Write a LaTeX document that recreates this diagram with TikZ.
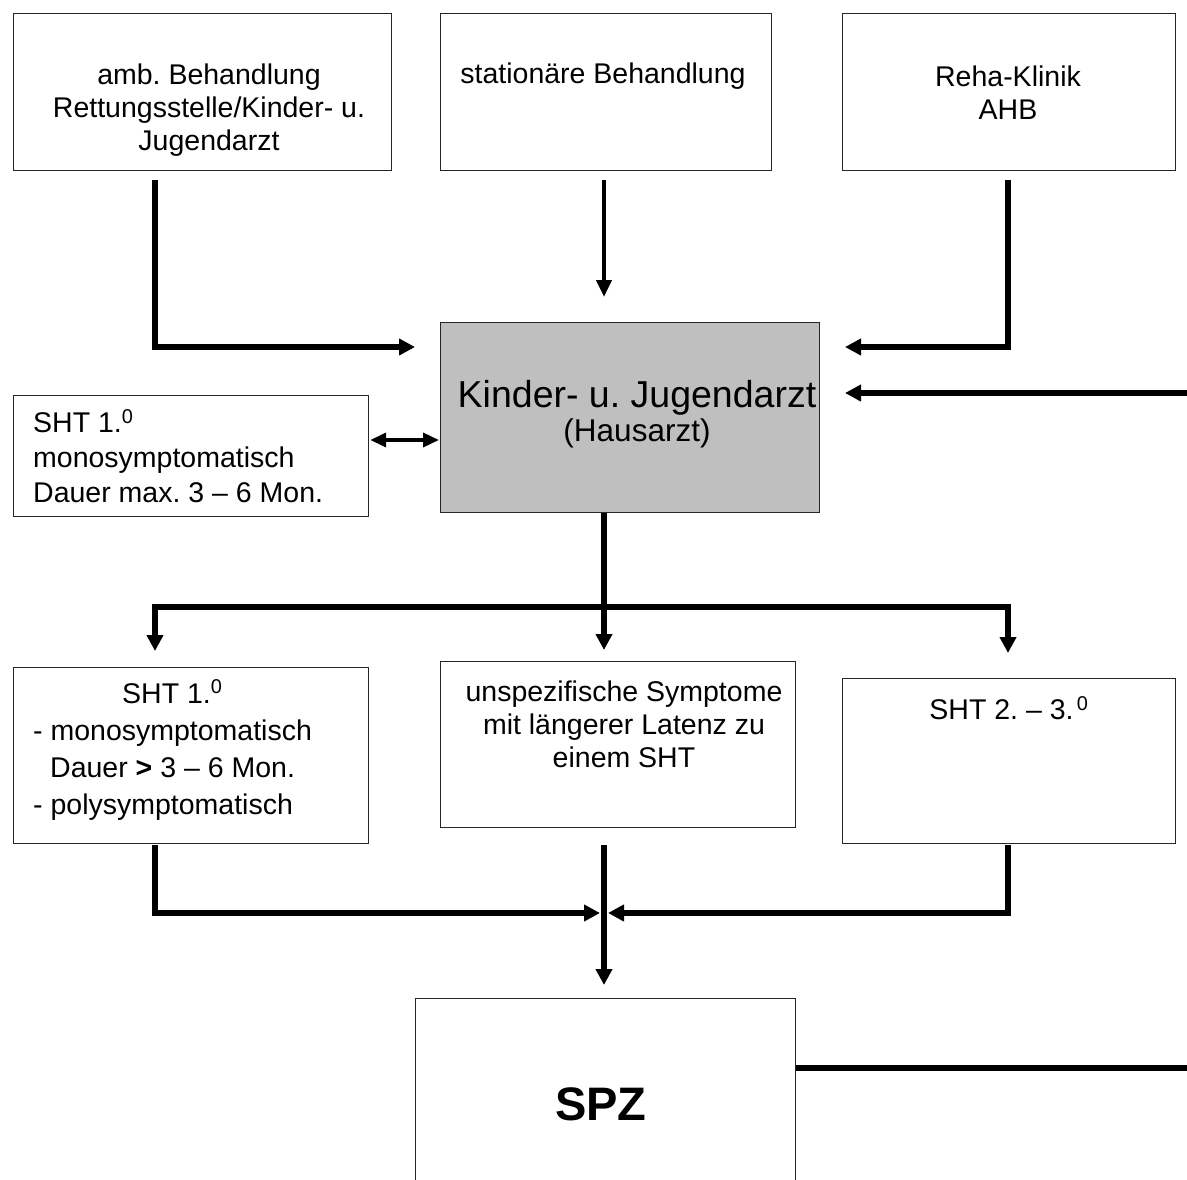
\documentclass[tikz,border=0pt]{standalone}
\usepackage{fontspec}
\setmainfont{Liberation Sans}
\usetikzlibrary{arrows.meta}
\frenchspacing
\begin{document}
\begin{tikzpicture}[x=1pt,y=-1pt,
  box/.style={draw=black!85, line width=1.2pt, fill=white, inner sep=0pt, anchor=north west},
  txt/.style={font=\fontsize{28.5}{33}\selectfont, align=center, inner sep=0pt},
  ltxt/.style={font=\fontsize{28.5}{35}\selectfont, align=left, inner sep=0pt, anchor=west},
  bigconn/.style={line width=5.5pt, -{Triangle[length=16pt,width=16pt]}},
  bigline/.style={line width=5.5pt},
  smallconn/.style={line width=4.5pt, -{Triangle[length=17pt,width=15pt]}},
  dblconn/.style={line width=3.5pt, {Triangle[length=16pt,width=14pt]}-{Triangle[length=16pt,width=14pt]}}]
\useasboundingbox (0,0) rectangle (1187,1180);
\fill[white] (0,0) rectangle (1187,1180);

% boxes
\node[box, minimum width=378pt, minimum height=157pt] (b1) at (13,13) {};
\node[box, minimum width=331pt, minimum height=157pt] (b2) at (440,13) {};
\node[box, minimum width=333pt, minimum height=157pt] (b3) at (842,13) {};
\node[box, minimum width=379pt, minimum height=190pt, fill=black!25] (k) at (440,322) {};
\node[box, minimum width=355pt, minimum height=121pt] (l) at (13,395) {};
\node[box, minimum width=355pt, minimum height=176pt] (b4) at (13,667) {};
\node[box, minimum width=355pt, minimum height=166pt] (b5) at (440,661) {};
\node[box, minimum width=333pt, minimum height=165pt] (b6) at (842,678) {};
\node[box, minimum width=380pt, minimum height=210pt] (spz) at (415,998) {};

% texts
\node[txt] (b1t) at (209,110) {amb. Behandlung\\Rettungsstelle/Kinder- u.\\Jugendarzt};
\node[txt] (b2t) at (603,76) {stationäre Behandlung};
\node[txt] (b3t) at (1008,93) {Reha-Klinik\\AHB};
\node[inner sep=0pt, align=center] (kt) at (637,414)
  {\fontsize{37.5}{42}\selectfont Kinder- u. Jugendarzt\\[3pt]\fontsize{31.5}{42}\selectfont (Hausarzt)};
\node[ltxt] (lt) at (33,456) {SHT 1.\textsuperscript{0}\\monosymptomatisch\\Dauer max. 3 – 6 Mon.};
\node[ltxt, font=\fontsize{28.5}{37}\selectfont] (b4t) at (33,750)
  {\hspace*{89pt}SHT 1.\textsuperscript{0}\\- monosymptomatisch\\\hspace*{17pt}Dauer \textbf{>} 3 – 6 Mon.\\- polysymptomatisch};
\node[txt] (b5t) at (624,724) {unspezifische Symptome\\mit längerer Latenz zu\\einem SHT};
\node[txt] (b6t) at (1009,708) {SHT 2. – 3.\textsuperscript{\,0}};
\node[inner sep=0pt, font=\fontsize{47}{52}\selectfont\bfseries] (spzt) at (601,1104) {SPZ};

% connector coordinates
\coordinate (a1s) at (155,180);
\coordinate (a1e) at (415,347);
\coordinate (a2s) at (604,180);
\coordinate (a2e) at (604,297);
\coordinate (a3s) at (1008,180);
\coordinate (a3e) at (845,347);
\coordinate (a4s) at (1187,393);
\coordinate (a4e) at (845,393);
\coordinate (dy) at (0,440);
\coordinate (jn) at (604,607);
\coordinate (t4) at (155,651);
\coordinate (t5) at (604,650);
\coordinate (t6) at (1008,653);
\coordinate (u4) at (155,845);
\coordinate (u5) at (604,845);
\coordinate (u6) at (1008,845);
\coordinate (m4) at (600,913);
\coordinate (m6) at (608,913);
\coordinate (sp) at (604,985);
\coordinate (sl) at (0,1068);
\coordinate (sr) at (1187,1068);

% connectors
\draw[bigconn] (a1s) |- (a1e);
\draw[smallconn] (a2s) -- (a2e);
\draw[bigconn] (a3s) |- (a3e);
\draw[bigconn] (a4s) -- (a4e);
\draw[dblconn] ([xshift=1pt]l.east |- dy) -- ([xshift=-1pt]k.west |- dy);
\draw[bigline] (k.south -| jn) -- (jn);
\draw[bigconn] (jn) -| (t4);
\draw[bigconn] (jn) -- (t5);
\draw[bigconn] (jn) -| (t6);
\draw[bigconn] (u4) |- (m4);
\draw[bigconn] (u6) |- (m6);
\draw[bigconn] (u5) -- (sp);
\draw[bigline] (spz.north east |- sl) -- (sr);
\end{tikzpicture}
\end{document}
